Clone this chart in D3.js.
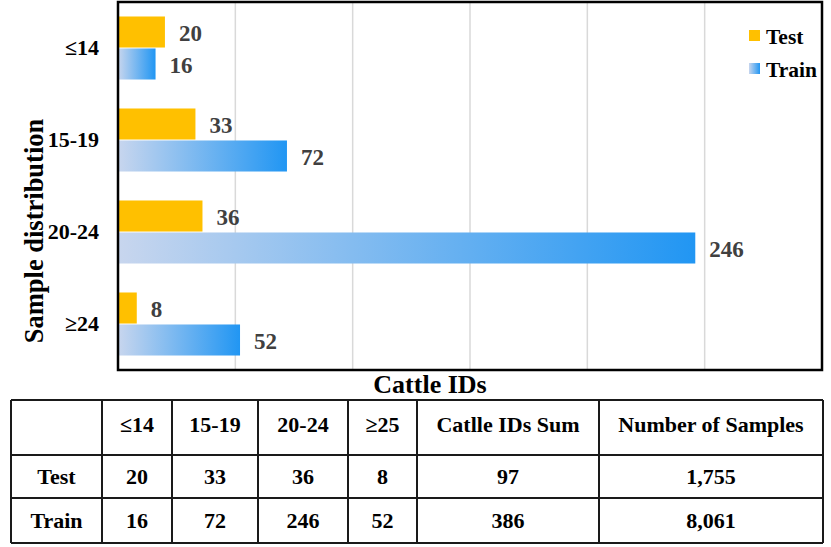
<!DOCTYPE html>
<html>
<head>
<meta charset="utf-8">
<script src="https://cdn.jsdelivr.net/npm/d3@7"></script>
<style>
  body { margin: 0; background: #fff; }
  text { font-family: "Liberation Serif", "Times New Roman", serif; font-weight: bold; }
</style>
</head>
<body>
<script>
// data
var categories = ["≤14", "15-19", "20-24", "≥24"];
var series = ["Test", "Train"];
var testValues = [20, 33, 36, 8];
var trainValues = [16, 72, 246, 52];
var xTicks = [50, 100, 150, 200, 250];

// table under the chart
var tableHeader = ["", "≤14", "15-19", "20-24", "≥25", "Catlle IDs Sum", "Number of Samples"];
var tableTest = ["Test", "20", "33", "36", "8", "97", "1,755"];
var tableTrain = ["Train", "16", "72", "246", "52", "386", "8,061"];

var width = 831, height = 547;
var plot = { left: 118, right: 822, top: 2, bottom: 370 };

var svg = d3.select("body")
    .append("svg")
    .attr("width", width)
    .attr("height", height);

var defs = svg.append("defs");
var grad = defs.append("linearGradient")
    .attr("id", "trainGrad")
    .attr("x1", "0%").attr("x2", "100%")
    .attr("y1", "0%").attr("y2", "0%");
grad.append("stop").attr("offset", "0%").attr("stop-color", "#c8d6ee");
grad.append("stop").attr("offset", "100%").attr("stop-color", "#2196f3");

var colors = { Test: "#ffc000", Train: "url(#trainGrad)" };

var data = categories.map(function (c, i) {
    return { cat: c, Test: testValues[i], Train: trainValues[i] };
});

var x = d3.scaleLinear()
    .domain([0, 300])
    .range([plot.left, plot.right]);

var y = d3.scaleBand()
    .domain(categories)
    .range([plot.top, plot.bottom])
    .paddingInner(0.315)
    .paddingOuter(0.1575);

var ySub = d3.scaleBand()
    .domain(series)
    .range([0, y.bandwidth()])
    .paddingInner(0.03);

// gridlines
svg.append("g")
    .attr("class", "grid")
    .selectAll("line")
    .data(xTicks)
    .enter().append("line")
    .attr("x1", function (d) { return x(d); })
    .attr("x2", function (d) { return x(d); })
    .attr("y1", plot.top)
    .attr("y2", plot.bottom)
    .attr("stroke", "#d9d9d9")
    .attr("stroke-width", 1.5);

// bars
var groups = svg.selectAll(".cat")
    .data(data)
    .enter().append("g")
    .attr("class", "cat")
    .attr("transform", function (d) { return "translate(0," + y(d.cat) + ")"; });

groups.selectAll("rect")
    .data(function (d) { return series.map(function (s) { return { key: s, value: d[s] }; }); })
    .enter().append("rect")
    .attr("x", x(0))
    .attr("y", function (d) { return ySub(d.key); })
    .attr("width", function (d) { return x(d.value) - x(0); })
    .attr("height", ySub.bandwidth())
    .attr("fill", function (d) { return colors[d.key]; });

groups.selectAll(".val")
    .data(function (d) { return series.map(function (s) { return { key: s, value: d[s] }; }); })
    .enter().append("text")
    .attr("class", "val")
    .attr("x", function (d) { return x(d.value) + 14; })
    .attr("y", function (d) { return ySub(d.key) + ySub.bandwidth() / 2 + 1; })
    .attr("dy", "0.35em")
    .attr("fill", "#404040")
    .style("font-size", "23px")
    .text(function (d) { return d.value; });

// y axis category labels
var yAxis = d3.axisLeft(y).tickSize(0).tickPadding(19);
var gY = svg.append("g")
    .attr("transform", "translate(" + plot.left + ",0)")
    .call(yAxis);
gY.select(".domain").remove();
gY.selectAll("text")
    .style("font-size", "22px")
    .style("font-family", "Liberation Serif, serif")
    .style("font-weight", "bold")
    .attr("fill", "#000");

// frame
svg.append("rect")
    .attr("x", plot.left)
    .attr("y", plot.top)
    .attr("width", plot.right - plot.left)
    .attr("height", plot.bottom - plot.top)
    .attr("fill", "none")
    .attr("stroke", "#000")
    .attr("stroke-width", 2.5);

// axis titles
svg.append("text")
    .attr("transform", "translate(43,231) rotate(-90)")
    .attr("text-anchor", "middle")
    .style("font-size", "26.5px")
    .text("Sample distribution");

svg.append("text")
    .attr("x", 430)
    .attr("y", 393)
    .attr("text-anchor", "middle")
    .style("font-size", "26px")
    .text("Cattle IDs");

// legend
var legend = svg.append("g")
    .attr("transform", "translate(749,30)");
var legendItems = legend.selectAll("g")
    .data(series)
    .enter().append("g")
    .attr("transform", function (d, i) { return "translate(0," + (i * 33) + ")"; });
legendItems.append("rect")
    .attr("width", 11)
    .attr("height", 11)
    .attr("fill", function (d) { return colors[d]; });
legendItems.append("text")
    .attr("x", 17)
    .attr("y", 6)
    .attr("dy", "0.35em")
    .style("font-size", "21.5px")
    .attr("fill", "#000")
    .text(function (d) { return d; });

// table
var colEdges = [11, 102, 172, 258, 348, 417, 599, 823];
var rowEdges = [400, 455, 498, 543];
var rows = [tableHeader, tableTest, tableTrain];

var table = svg.append("g").attr("class", "table");

table.selectAll(".hline")
    .data(rowEdges)
    .enter().append("line")
    .attr("x1", colEdges[0])
    .attr("x2", colEdges[colEdges.length - 1])
    .attr("y1", function (d) { return d; })
    .attr("y2", function (d) { return d; })
    .attr("stroke", "#1a1a1a")
    .attr("stroke-width", 2);

table.selectAll(".vline")
    .data(colEdges)
    .enter().append("line")
    .attr("x1", function (d) { return d; })
    .attr("x2", function (d) { return d; })
    .attr("y1", rowEdges[0])
    .attr("y2", rowEdges[rowEdges.length - 1])
    .attr("stroke", "#1a1a1a")
    .attr("stroke-width", 2);

rows.forEach(function (row, r) {
    var cy = (rowEdges[r] + rowEdges[r + 1]) / 2 - (r === 0 ? 3 : 0);
    table.selectAll(".cell" + r)
        .data(row)
        .enter().append("text")
        .attr("x", function (d, c) { return (colEdges[c] + colEdges[c + 1]) / 2; })
        .attr("y", cy)
        .attr("dy", "0.35em")
        .attr("text-anchor", "middle")
        .style("font-size", "22px")
        .attr("fill", "#000")
        .text(function (d) { return d; });
});
</script>
</body>
</html>
